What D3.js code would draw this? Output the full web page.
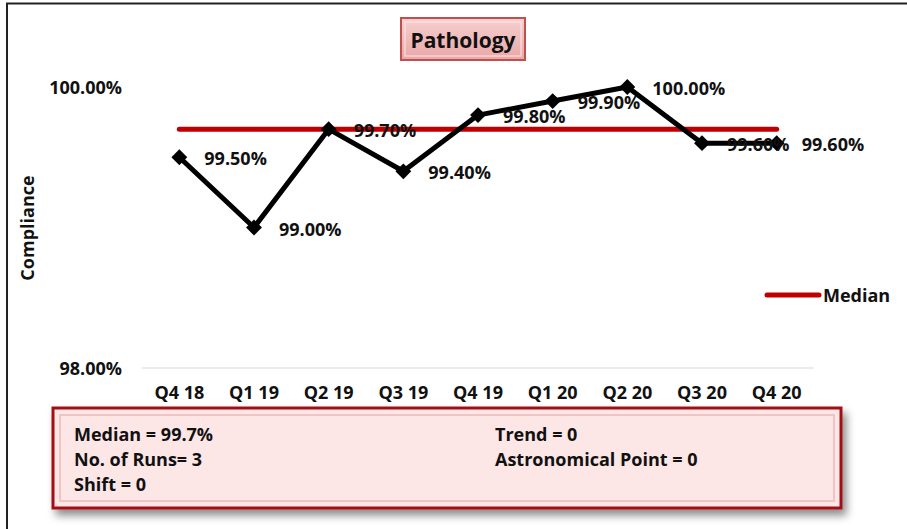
<!DOCTYPE html>
<html>
<head>
<meta charset="utf-8">
<script src="https://cdn.jsdelivr.net/npm/d3@7"></script>
<style>
  body { margin: 0; background: #fff; }
  svg { display: block; font-family: "Open Sans", "Noto Sans", sans-serif; font-weight: bold; }
</style>
</head>
<body>
<svg id="chart" width="907" height="529"></svg>
<script>
// Data
const quarters = ['Q4 18', 'Q1 19', 'Q2 19', 'Q3 19', 'Q4 19', 'Q1 20', 'Q2 20', 'Q3 20', 'Q4 20'];
const compliance = [99.5, 99.0, 99.7, 99.4, 99.8, 99.9, 100.0, 99.6, 99.6];
const medianValue = [99.7, 99.7, 99.7, 99.7, 99.7, 99.7, 99.7, 99.7, 99.7];
const yTicks = [98, 100];
const statsLeft = ['Median = 99.7%', 'No. of Runs= 3', 'Shift = 0'];
const statsRight = ['Trend = 0', 'Astronomical Point = 0'];

const FONT = 18;

const svg = d3.select('#chart');
const defs = svg.append('defs');

const plot = { left: 142, right: 814, top: 87, bottom: 368 };

const x = d3.scaleBand().domain(quarters).range([plot.left, plot.right]);
const y = d3.scaleLinear().domain([98, 100]).range([plot.bottom, plot.top]);
const cx = q => x(q) + x.bandwidth() / 2;

// Outer frame
svg.append('path')
    .attr('d', 'M7,529 V3.5 H907')
    .attr('fill', 'none')
    .attr('stroke', '#222')
    .attr('stroke-width', 2);

// Gradients / filters
const pinkGrad = defs.append('linearGradient').attr('id', 'pink').attr('x1', 0).attr('y1', 0).attr('x2', 0).attr('y2', 1);
pinkGrad.append('stop').attr('offset', 0).attr('stop-color', '#f7d0d0');
pinkGrad.append('stop').attr('offset', 1).attr('stop-color', '#e9a6a6');

const shadow = defs.append('filter').attr('id', 'shadow').attr('x', '-5%').attr('y', '-10%').attr('width', '115%').attr('height', '140%');
shadow.append('feDropShadow').attr('dx', 4).attr('dy', 6).attr('stdDeviation', 4).attr('flood-color', '#000').attr('flood-opacity', 0.45);

// Title box
const title = svg.append('g');
title.append('rect')
    .attr('x', 401).attr('y', 18).attr('width', 124).attr('height', 42)
    .attr('fill', 'url(#pink)')
    .attr('stroke', '#c0504d').attr('stroke-width', 2);
title.append('rect')
    .attr('x', 405).attr('y', 22).attr('width', 116).attr('height', 34)
    .attr('fill', 'none')
    .attr('stroke', '#fbe6e6').attr('stroke-width', 1.5).attr('opacity', 0.7);
title.append('text')
    .attr('x', 463).attr('y', 40)
    .attr('text-anchor', 'middle').attr('dominant-baseline', 'central')
    .attr('font-size', 21).attr('fill', '#111')
    .text('Pathology');

// Gridline at 98%
svg.append('line')
    .attr('x1', plot.left).attr('x2', plot.right)
    .attr('y1', y(98)).attr('y2', y(98))
    .attr('stroke', '#d9d9d9').attr('stroke-width', 1);

// Y axis labels
svg.append('g').selectAll('text')
    .data(yTicks)
    .join('text')
    .attr('x', 122).attr('y', d => y(d))
    .attr('text-anchor', 'end').attr('dominant-baseline', 'central')
    .attr('font-size', FONT).attr('fill', '#111')
    .text(d => d.toFixed(2) + '%');

svg.append('text')
    .attr('transform', 'translate(27,228) rotate(-90)')
    .attr('text-anchor', 'middle').attr('dominant-baseline', 'central')
    .attr('font-size', FONT).attr('fill', '#111')
    .text('Compliance');

// X axis labels
svg.append('g').selectAll('text')
    .data(quarters)
    .join('text')
    .attr('x', d => cx(d)).attr('y', 392)
    .attr('text-anchor', 'middle').attr('dominant-baseline', 'central')
    .attr('font-size', FONT).attr('fill', '#111')
    .text(d => d);

// Median line
const line = d3.line().x((d, i) => cx(quarters[i])).y(d => y(d));
svg.append('path')
    .datum(medianValue)
    .attr('d', line)
    .attr('fill', 'none')
    .attr('stroke', '#c00000').attr('stroke-width', 5)
    .attr('stroke-linecap', 'round');

// Compliance line
svg.append('path')
    .datum(compliance)
    .attr('d', line)
    .attr('fill', 'none')
    .attr('stroke', '#000').attr('stroke-width', 5)
    .attr('stroke-linejoin', 'round');

// Diamond markers
svg.append('g').selectAll('path')
    .data(compliance)
    .join('path')
    .attr('transform', (d, i) => `translate(${cx(quarters[i])},${y(d)})`)
    .attr('d', d3.symbol(d3.symbolDiamond2, 160))
    .attr('fill', '#000');

// Data labels
svg.append('g').selectAll('text')
    .data(compliance)
    .join('text')
    .attr('x', (d, i) => cx(quarters[i]) + 25)
    .attr('y', d => y(d) + 1)
    .attr('dominant-baseline', 'central')
    .attr('font-size', FONT).attr('fill', '#111')
    .text(d => d.toFixed(2) + '%');

// Legend
svg.append('line')
    .attr('x1', 767).attr('x2', 819).attr('y1', 295).attr('y2', 295)
    .attr('stroke', '#c00000').attr('stroke-width', 5).attr('stroke-linecap', 'round');
svg.append('text')
    .attr('x', 823).attr('y', 295)
    .attr('dominant-baseline', 'central')
    .attr('font-size', FONT).attr('fill', '#111')
    .text('Median');

// Stats box
const box = svg.append('g');
box.append('rect')
    .attr('x', 53).attr('y', 408).attr('width', 788).attr('height', 100)
    .attr('fill', '#fde6e6')
    .attr('stroke', '#a30f12').attr('stroke-width', 3)
    .attr('filter', 'url(#shadow)');
box.append('rect')
    .attr('x', 60).attr('y', 415).attr('width', 774).attr('height', 86)
    .attr('fill', 'none')
    .attr('stroke', '#f0c4c4').attr('stroke-width', 2);

box.append('g').selectAll('text')
    .data(statsLeft)
    .join('text')
    .attr('x', 74).attr('y', (d, i) => 434 + i * 25)
    .attr('dominant-baseline', 'central')
    .attr('font-size', FONT).attr('fill', '#111')
    .text(d => d);

box.append('g').selectAll('text')
    .data(statsRight)
    .join('text')
    .attr('x', 495).attr('y', (d, i) => 434 + i * 25)
    .attr('dominant-baseline', 'central')
    .attr('font-size', FONT).attr('fill', '#111')
    .text(d => d);
</script>
</body>
</html>
